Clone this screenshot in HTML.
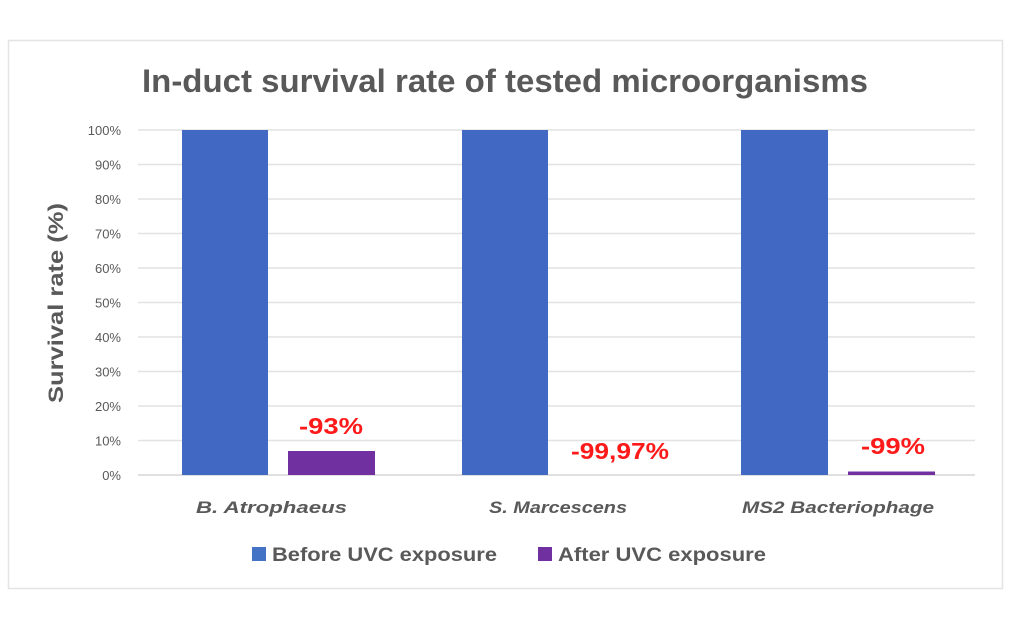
<!DOCTYPE html>
<html><head><style>
body{margin:0;background:#fff;}
svg{display:block;font-family:"Liberation Sans","DejaVu Sans",sans-serif;}
</style></head><body>
<svg width="1020" height="628" xmlns="http://www.w3.org/2000/svg">
<rect x="0" y="0" width="1020" height="628" fill="#fff"/>
<rect x="8.5" y="40.5" width="994" height="548" fill="#fff" stroke="#e4e4e4" stroke-width="1.5"/>
<text x="142" y="92" font-size="32" font-weight="bold" fill="#595959" textLength="726" lengthAdjust="spacingAndGlyphs">In-duct survival rate of tested microorganisms</text>
<g stroke="#e2e2e2" stroke-width="1.5">
<line x1="138" x2="975" y1="130" y2="130"/><line x1="138" x2="975" y1="164.5" y2="164.5"/>
<line x1="138" x2="975" y1="199" y2="199"/><line x1="138" x2="975" y1="233.5" y2="233.5"/>
<line x1="138" x2="975" y1="268" y2="268"/><line x1="138" x2="975" y1="302.5" y2="302.5"/>
<line x1="138" x2="975" y1="337" y2="337"/><line x1="138" x2="975" y1="371.5" y2="371.5"/>
<line x1="138" x2="975" y1="406" y2="406"/><line x1="138" x2="975" y1="440.5" y2="440.5"/>
<line x1="138" x2="975" y1="475" y2="475" stroke="#d6d6d6"/>
</g>
<g font-size="13" fill="#595959" text-anchor="end">
<text x="121" y="135">100%</text><text x="121" y="169.5">90%</text><text x="121" y="204">80%</text>
<text x="121" y="238.5">70%</text><text x="121" y="273">60%</text><text x="121" y="307.5">50%</text>
<text x="121" y="342">40%</text><text x="121" y="376.5">30%</text><text x="121" y="411">20%</text>
<text x="121" y="445.5">10%</text><text x="121" y="480">0%</text>
</g>
<text transform="translate(63,303) rotate(-90)" text-anchor="middle" font-size="21" font-weight="bold" fill="#595959" textLength="200" lengthAdjust="spacingAndGlyphs">Survival rate (%)</text>
<g fill="#4169c4">
<rect x="182" y="130" width="86" height="345"/>
<rect x="462" y="130" width="86" height="345"/>
<rect x="741" y="130" width="87" height="345"/>
</g>
<g fill="#7030a0">
<rect x="288" y="451" width="87" height="24"/>
<rect x="848" y="471.5" width="87" height="3.5"/>
</g>
<g font-size="23" font-weight="bold" fill="#ff1a1a">
<text x="299" y="434" textLength="64" lengthAdjust="spacingAndGlyphs">-93%</text>
<text x="571" y="459" textLength="98" lengthAdjust="spacingAndGlyphs">-99,97%</text>
<text x="861" y="454" textLength="64" lengthAdjust="spacingAndGlyphs">-99%</text>
</g>
<g font-size="17" font-weight="bold" font-style="italic" fill="#595959">
<text x="196" y="513" textLength="151" lengthAdjust="spacingAndGlyphs">B. Atrophaeus</text>
<text x="489" y="513" textLength="138" lengthAdjust="spacingAndGlyphs">S. Marcescens</text>
<text x="742" y="513" textLength="192" lengthAdjust="spacingAndGlyphs">MS2 Bacteriophage</text>
</g>
<rect x="252" y="547" width="14" height="14" fill="#4472c4"/>
<text x="272" y="561" font-size="19" font-weight="bold" fill="#595959" textLength="225" lengthAdjust="spacingAndGlyphs">Before UVC exposure</text>
<rect x="538" y="547" width="14" height="14" fill="#7030a0"/>
<text x="558" y="561" font-size="19" font-weight="bold" fill="#595959" textLength="208" lengthAdjust="spacingAndGlyphs">After UVC exposure</text>
</svg>
</body></html>
